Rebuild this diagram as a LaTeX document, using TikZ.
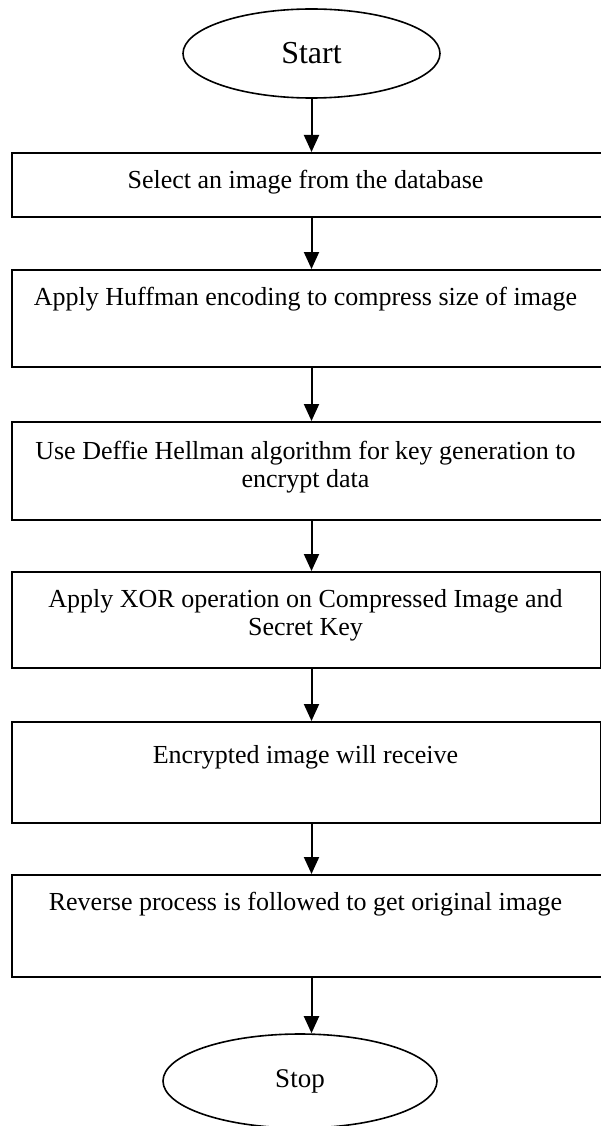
\documentclass[tikz,border=0pt]{standalone}
\usepackage{fontspec}
\setmainfont{Liberation Serif}
\usetikzlibrary{arrows.meta,shapes.geometric}
\tikzset{
  stepbox/.style={draw, line width=1.8pt, rectangle, inner sep=0pt, anchor=north west},
  term/.style={draw, line width=1.6pt, ellipse, inner sep=0pt},
  boxtext/.style={anchor=north, inner sep=0pt, align=center,
    font=\fontsize{26}{28}\selectfont},
  flow/.style={line width=2pt, -{Triangle[length=17pt,width=15pt]}},
}
\begin{document}
\begin{tikzpicture}[x=1pt,y=-1pt]
  \useasboundingbox (0,0) rectangle (601,1126);
  \clip (0,0) rectangle (601,1126);

  % terminals
  \node[term, minimum width=257pt, minimum height=89pt,
        font=\fontsize{32}{34}\selectfont] (start) at (311.5,53.5) {Start};
  \node[term, minimum width=274pt, minimum height=94pt,
        font=\fontsize{27}{29}\selectfont] (stop) at (300,1081) {Stop};

  % process steps
  \node[stepbox, minimum width=593pt, minimum height=64pt]  (b1) at (11,152) {};
  \node[stepbox, minimum width=593pt, minimum height=97pt]  (b2) at (11,269) {};
  \node[stepbox, minimum width=593pt, minimum height=98pt]  (b3) at (11,421) {};
  \node[stepbox, minimum width=589pt, minimum height=96pt]  (b4) at (11,571) {};
  \node[stepbox, minimum width=589pt, minimum height=101pt] (b5) at (11,721) {};
  \node[stepbox, minimum width=593pt, minimum height=102pt] (b6) at (11,874) {};

  \node[boxtext] (t1) at ([xshift=294.5pt,yshift=-18pt]b1.north west)
    {Select an image from the database};
  \node[boxtext] (t2) at ([xshift=294.5pt,yshift=-18pt]b2.north west)
    {Apply Huffman encoding to compress size of image};
  \node[boxtext] (t3) at ([xshift=294.5pt,yshift=-20pt]b3.north west)
    {Use Deffie Hellman algorithm for key generation to\\encrypt data};
  \node[boxtext] (t4) at ([xshift=294.5pt,yshift=-18pt]b4.north west)
    {Apply XOR operation on Compressed Image and\\Secret Key};
  \node[boxtext] (t5) at ([xshift=294.5pt,yshift=-24pt]b5.north west)
    {Encrypted image will receive};
  \node[boxtext] (t6) at ([xshift=294.5pt,yshift=-18pt]b6.north west)
    {Reverse process is followed to get original image};

  % connectors
  \draw[flow] (start.south) -- (start.south |- b1.north);
  \draw[flow] (b1.south -| start.south) -- (b2.north -| start.south);
  \draw[flow] (b2.south -| start.south) -- (b3.north -| start.south);
  \draw[flow] (b3.south -| start.south) -- (b4.north -| start.south);
  \draw[flow] (b4.south -| start.south) -- (b5.north -| start.south);
  \draw[flow] (b5.south -| start.south) -- (b6.north -| start.south);
  \draw[flow] (b6.south -| start.south) -- (stop.north -| start.south);
\end{tikzpicture}
\end{document}
